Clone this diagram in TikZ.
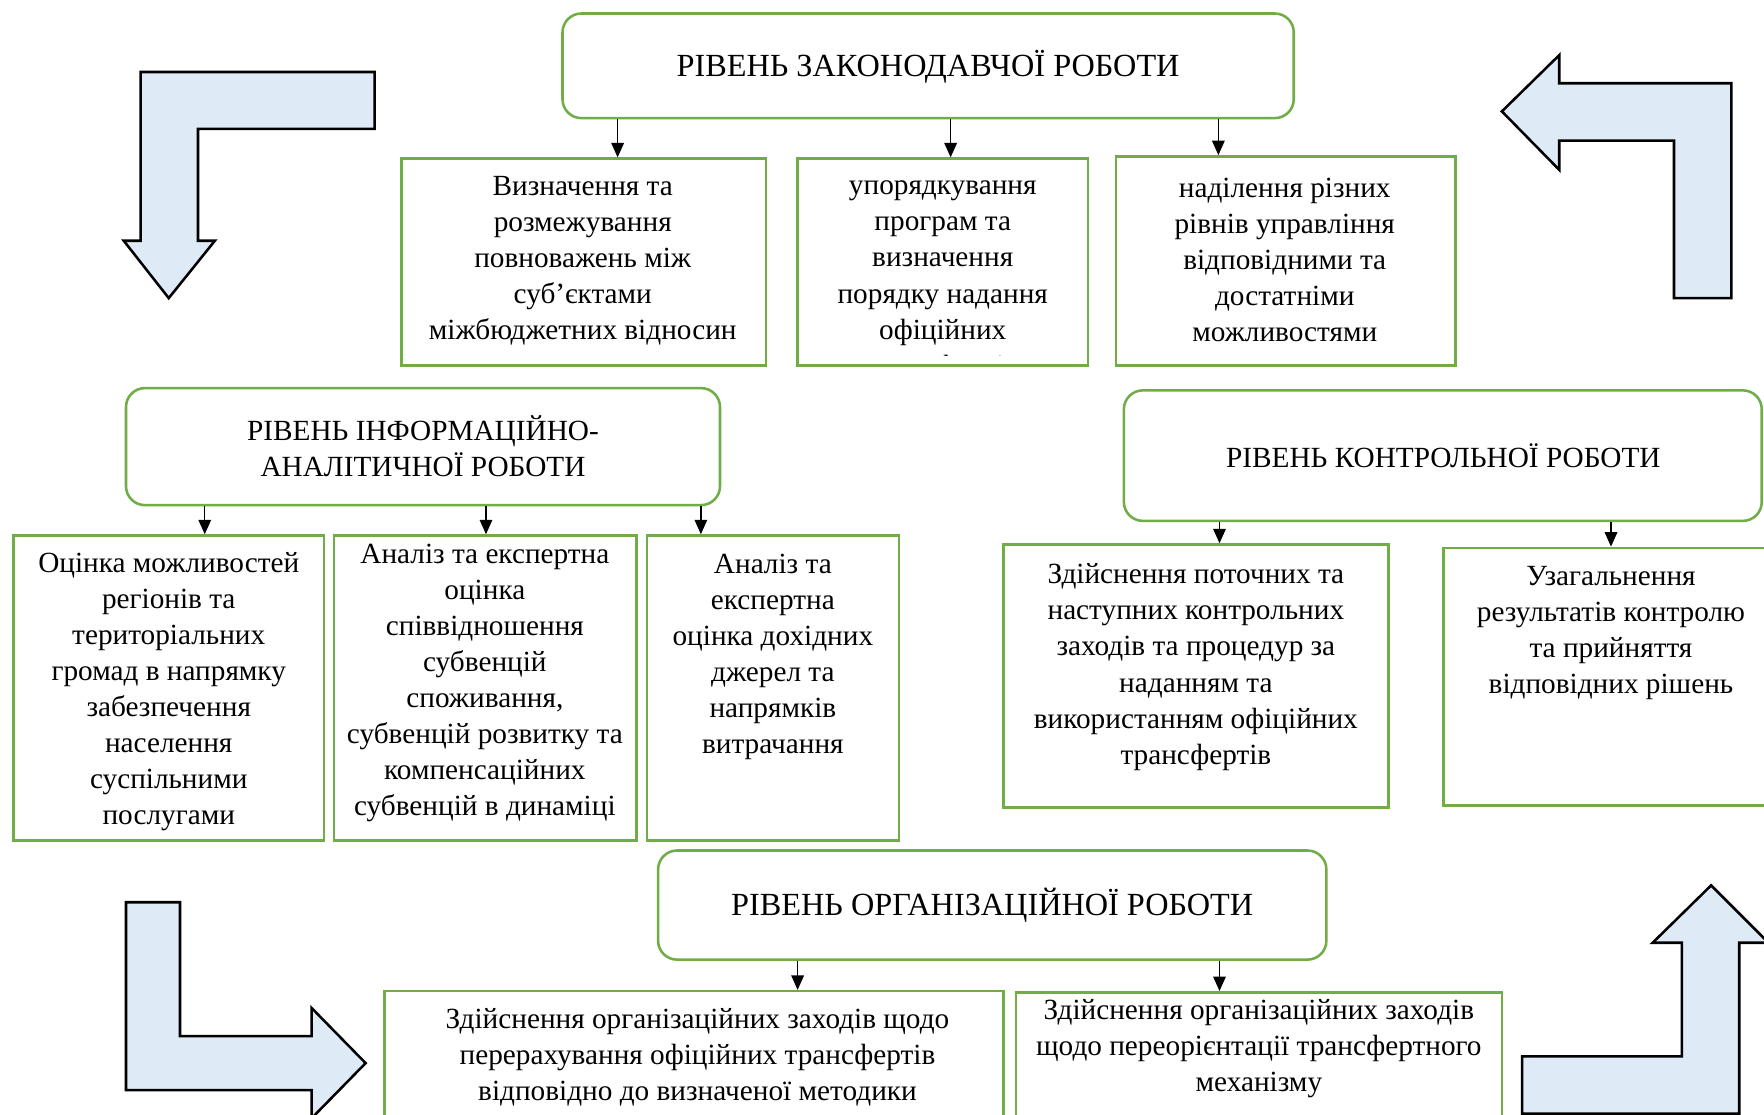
\documentclass[tikz,border=0pt]{standalone}
\usepackage{fontspec}
\setmainfont{Liberation Serif}
\usetikzlibrary{arrows.meta,fit}
\definecolor{grn}{HTML}{70AD47}
\definecolor{arrfill}{HTML}{DEEAF6}
\begin{document}
\begin{tikzpicture}[x=0.025cm,y=-0.025cm,
  lvl/.style={draw=grn,line width=1.6pt,rounded corners=0.42cm,inner sep=0pt},
  item/.style={draw=grn,line width=1.6pt,inner sep=0pt},
  txt/.style={align=center,inner sep=0pt,font=\fontsize{18.5}{22.8}\selectfont},
  bigtxt/.style={align=center,inner sep=0pt,font=\fontsize{20.4}{24}\selectfont},
  conn/.style={-{Triangle[length=0.32cm,width=0.28cm]},line width=0.8pt},
  bendarrow/.style={draw=black,fill=arrfill,line width=1.6pt,line join=miter}]
\useasboundingbox (0,0) rectangle (1568,991);
\clip (0,0) rectangle (1568,991);
\fill[white] (0,0) rectangle (1568,991);

% block arrows
\draw[bendarrow] (125,64) -- (333,64) -- (333,114.5) -- (176,114.5) -- (176,214) -- (191,214) -- (150,265) -- (110,214) -- (125,214) -- cycle;
\draw[bendarrow] (1335,99) -- (1386,49) -- (1386,74) -- (1539,74) -- (1539,265) -- (1488,265) -- (1488,125) -- (1386,125) -- (1386,151) -- cycle;
\draw[bendarrow] (112,802) -- (160,802) -- (160,921) -- (277,921) -- (277,896) -- (325,945) -- (277,994) -- (277,969) -- (112,969) -- cycle;
\draw[bendarrow] (1353,939) -- (1495,939) -- (1495,838) -- (1469,838) -- (1521,787) -- (1572,838) -- (1546,838) -- (1546,990) -- (1353,990) -- cycle;

% level: legislative
\node[lvl,fit={(500,12)(1150,105)}] (A) {};
\node[bigtxt] (At) at (825,59) {РІВЕНЬ ЗАКОНОДАВЧОЇ РОБОТИ};
\node[item,fit={(357,141)(681,325)}] (A1) {};
\node[txt] (A1t) at (518,232) {Визначення та\\розмежування\\повноважень між\\суб’єктами\\міжбюджетних відносин};
\node[item,fit={(709,141)(967,325)}] (A2) {};
\begin{scope}
\clip (711,143) rectangle (965,316);
\node[txt] (A2t) at (838,250) {упорядкування\\програм та\\визначення\\порядку надання\\офіційних\\трансфертів};
\end{scope}
\node[item,fit={(992,139)(1294,325)}] (A3) {};
\node[txt] (A3t) at (1142,231) {наділення різних\\рівнів управління\\відповідними та\\достатніми\\можливостями};
\coordinate (xa1) at (549,0);
\coordinate (xa2) at (845,0);
\coordinate (xa3) at (1083,0);
\draw[conn] (A.south -| xa1) -- (xa1 |- A1.north);
\draw[conn] (A.south -| xa2) -- (xa2 |- A2.north);
\draw[conn] (A.south -| xa3) -- (xa3 |- A3.north);

% level: information-analytical
\node[lvl,fit={(112,345)(640,449)}] (B) {};
\node[txt] (Bt) at (376,397) {РІВЕНЬ ІНФОРМАЦІЙНО-\\АНАЛІТИЧНОЇ РОБОТИ};
\node[item,fit={(12,476)(288,747)}] (B1) {};
\node[txt] (B1t) at (150,615) {Оцінка можливостей\\регіонів та\\територіальних\\громад в напрямку\\забезпечення\\населення\\суспільними\\послугами};
\node[item,fit={(297,476)(566,747)}] (B2) {};
\node[txt] (B2t) at (431,607) {Аналіз та експертна\\оцінка\\співвідношення\\субвенцій\\споживання,\\субвенцій розвитку та\\компенсаційних\\субвенцій в динаміці};
\node[item,fit={(575,476)(799,747)}] (B3) {};
\node[txt] (B3t) at (687,584) {Аналіз та\\експертна\\оцінка дохідних\\джерел та\\напрямків\\витрачання};
\coordinate (xb1) at (182,0);
\coordinate (xb2) at (432,0);
\coordinate (xb3) at (623,0);
\draw[conn] (B.south -| xb1) -- (xb1 |- B1.north);
\draw[conn] (B.south -| xb2) -- (xb2 |- B2.north);
\draw[conn] (B.south -| xb3) -- (xb3 |- B3.north);

% level: control
\node[lvl,fit={(999,347)(1566,463)}] (C) {};
\node[txt] (Ct) at (1283,405) {РІВЕНЬ КОНТРОЛЬНОЇ РОБОТИ};
\node[item,fit={(892,484)(1234,718)}] (C1) {};
\node[txt] (C1t) at (1063,593) {Здійснення поточних та\\наступних контрольних\\заходів та процедур за\\наданням та\\використанням офіційних\\трансфертів};
\node[item,fit={(1283,487)(1600,716)}] (C2) {};
\node[txt] (C2t) at (1432,563) {Узагальнення\\результатів контролю\\та прийняття\\відповідних рішень};
\coordinate (xc1) at (1084,0);
\coordinate (xc2) at (1432,0);
\draw[conn] (C.south -| xc1) -- (xc1 |- C1.north);
\draw[conn] (C.south -| xc2) -- (xc2 |- C2.north);

% level: organisational
\node[lvl,fit={(585,756)(1179,853)}] (D) {};
\node[bigtxt] (Dt) at (882,805) {РІВЕНЬ ОРГАНІЗАЦІЙНОЇ РОБОТИ};
\node[item,fit={(342,881)(892,1010)}] (D1) {};
\node[txt] (D1t) at (620,940) {Здійснення організаційних заходів щодо\\перерахування офіційних трансфертів\\відповідно до визначеної методики};
\node[item,fit={(903,882)(1335,1010)}] (D2) {};
\node[txt] (D2t) at (1119,932) {Здійснення організаційних заходів\\щодо переорієнтації трансфертного\\механізму};
\coordinate (xd1) at (709,0);
\coordinate (xd2) at (1084,0);
\draw[conn] (D.south -| xd1) -- (xd1 |- D1.north);
\draw[conn] (D.south -| xd2) -- (xd2 |- D2.north);
\end{tikzpicture}
\end{document}
